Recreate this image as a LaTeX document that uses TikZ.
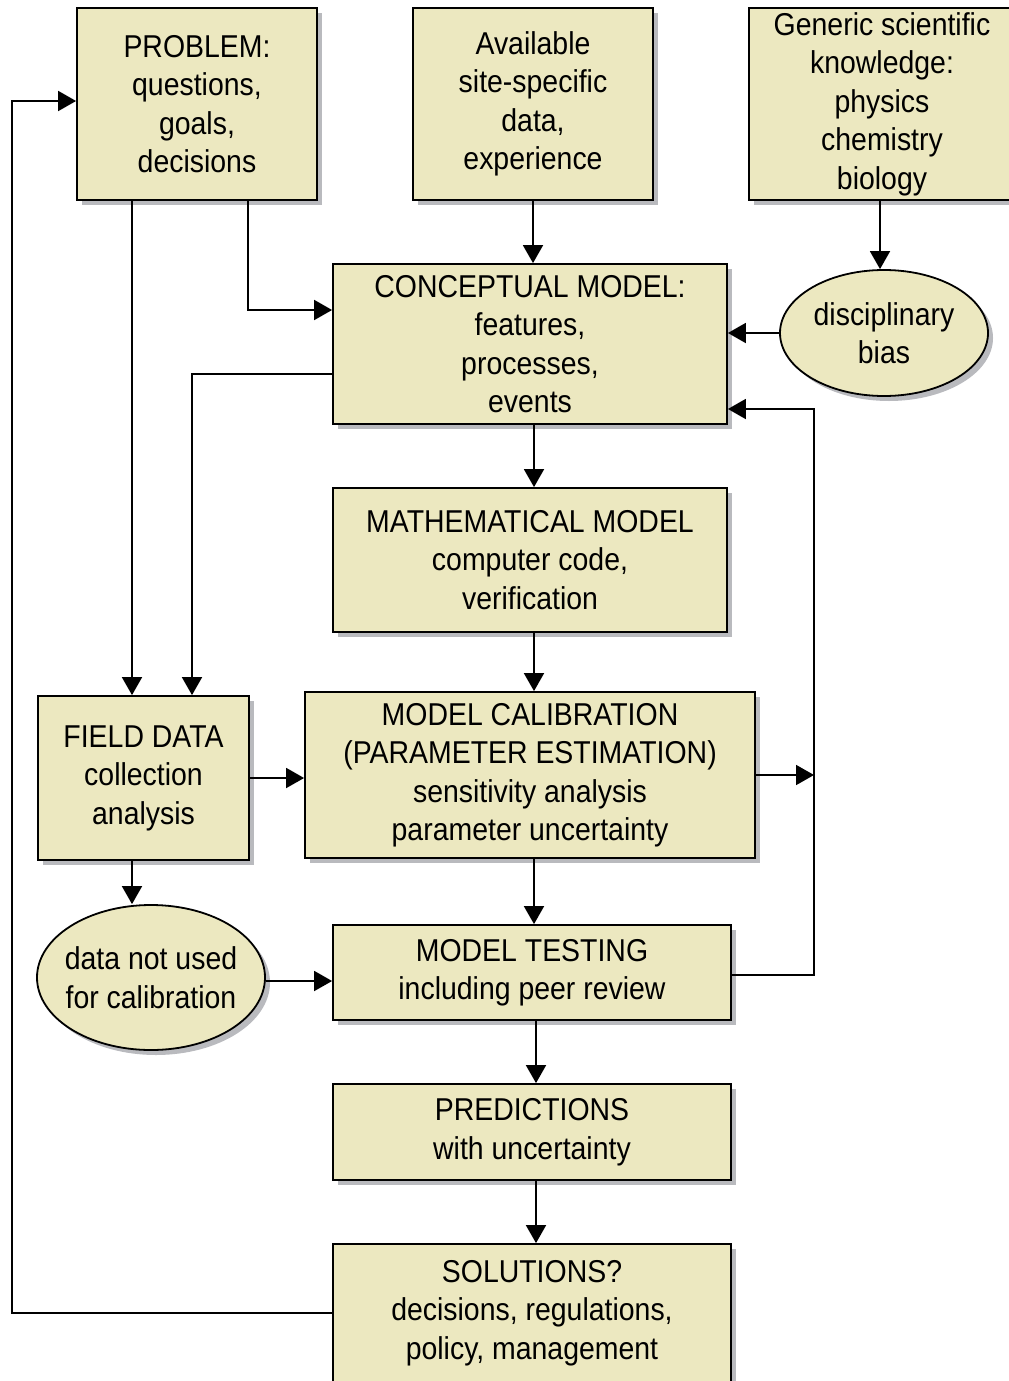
\documentclass[tikz,border=0pt]{standalone}
\usepackage{fontspec}
\setmainfont{Liberation Sans}[FakeStretch=0.9]
\usepackage{tikz}
\usetikzlibrary{shapes,arrows.meta,positioning,calc,shadows}
\definecolor{boxfill}{RGB}{236,232,192}
\definecolor{shadowgray}{RGB}{185,186,190}

\tikzset{
  block/.style={draw, line width=0.9pt, fill=boxfill, inner sep=0pt, align=center,
    drop shadow={shadow xshift=2.5pt, shadow yshift=-2.5pt, fill=shadowgray, opacity=1},
    font=\fontsize{15.8}{19.25}\selectfont},
  blob/.style={block, ellipse},
  arr/.style={line width=0.9pt, -{Triangle[length=9pt,width=10pt]}}
}

\begin{document}
\begin{tikzpicture}[x=0.5pt, y=-0.5pt]
    \useasboundingbox (0,0) rectangle (1008,1381);

    % Top row
    \node [block, minimum width=120pt, minimum height=96pt] (problem) at (197,104) {PROBLEM:\\questions,\\goals,\\decisions};
    \node [block, minimum width=120pt, minimum height=96pt] (avail) at (533,104) {Available\\site-specific\\data,\\experience};
    \node [block, minimum width=133pt, minimum height=96pt] (generic) at (882,104) {Generic scientific\\knowledge:\\physics\\chemistry\\biology};

    % Model chain
    \node [block, minimum width=197pt, minimum height=80pt] (concept) at (530,344) {CONCEPTUAL MODEL:\\features,\\processes,\\events};
    \node [blob, minimum width=104pt, minimum height=63pt] (bias) at (884,333) {disciplinary\\bias};
    \node [block, minimum width=197pt, minimum height=72pt] (math) at (530,560) {MATHEMATICAL MODEL\\computer code,\\verification};
    \node [block, minimum width=105.5pt, minimum height=82pt] (field) at (143.5,778) {FIELD DATA\\collection\\analysis};
    \node [block, minimum width=225pt, minimum height=83pt] (calib) at (530,775) {MODEL CALIBRATION\\(PARAMETER ESTIMATION)\\sensitivity analysis\\parameter uncertainty};
    \node [blob, inner xsep=-3pt, minimum width=114pt, minimum height=72.5pt] (dnu) at (151,977.5) {data not used\\for calibration};
    \node [block, minimum width=199pt, minimum height=47.5pt] (testing) at (532,972.5) {MODEL TESTING\\including peer review};
    \node [block, minimum width=199pt, minimum height=48pt] (pred) at (532,1132) {PREDICTIONS\\with uncertainty};
    \node [block, minimum width=199pt, minimum height=69pt] (sol) at (532,1313) {SOLUTIONS?\\decisions, regulations,\\policy, management};

    \coordinate (fb) at (814,409); % feedback line
    \coordinate (ret) at (12,101); % return line

    % Connectors
    \draw [arr] (avail.south) -- (avail.south |- concept.north);
    \draw [arr] ([xshift=-1pt]generic.south) -- ([xshift=-1pt]generic.south |- bias.north);
    \draw [arr] (bias.west) -- (bias.west -| concept.east);
    \draw [arr] ([xshift=25.5pt]problem.south) |- ([yshift=17pt]concept.west);
    \draw [arr] ([xshift=-32.5pt]problem.south) -- ([xshift=-32.5pt]problem.south |- field.north);
    \draw [arr] ([yshift=-15pt]concept.west) -| ([xshift=24.25pt]field.north);
    \draw [arr] ([xshift=2pt]concept.south) -- ([xshift=2pt]concept.south |- math.north);
    \draw [arr] ([xshift=2pt]math.south) -- ([xshift=2pt]math.south |- calib.north);
    \draw [arr] (field.east) -- (field.east -| calib.west);
    \draw [arr] (calib.east) -- (calib.east -| fb);
    \draw [arr] ([xshift=-5.75pt]field.south) -- ([xshift=-5.75pt]field.south |- dnu.north);
    \draw [arr] ([yshift=-1.75pt]dnu.east) -- ([yshift=-1.75pt]dnu.east -| testing.west);
    \draw [arr] ([xshift=2pt]calib.south) -- ([xshift=2pt]calib.south |- testing.north);
    \draw [arr] ([yshift=-1.25pt]testing.east) -| (fb) -- (fb -| concept.east);
    \draw [arr] ([xshift=2pt]testing.south) -- ([xshift=2pt]testing.south |- pred.north);
    \draw [arr] ([xshift=2pt]pred.south) -- ([xshift=2pt]pred.south |- sol.north);
    \draw [arr] (sol.west) -| (ret) -- (ret -| problem.west);
\end{tikzpicture}
\end{document}
